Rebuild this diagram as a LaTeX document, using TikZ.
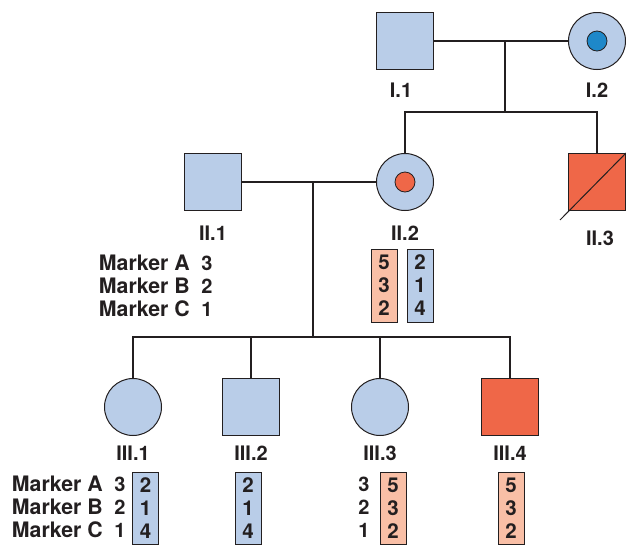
\documentclass[tikz,border=0pt]{standalone}
\usepackage{fontspec}
\setmainfont{TeX Gyre Heros}

\definecolor{ink}{HTML}{231F20}
\definecolor{paleblue}{HTML}{B9CDE8}
\definecolor{affected}{HTML}{EF6748}
\definecolor{salmon}{HTML}{F9BFA6}
\definecolor{carrierblue}{HTML}{1E88C9}

\tikzset{
  male/.style={rectangle, draw=ink, line width=1pt, fill=paleblue, minimum size=57pt, inner sep=0pt},
  female/.style={circle, draw=ink, line width=1pt, fill=paleblue, minimum size=57pt, inner sep=0pt},
  spot/.style={circle, draw=ink, line width=0.8pt, minimum size=20pt, inner sep=0pt},
  tag/.style={font=\fontsize{20}{24}\selectfont\bfseries, text=ink, inner sep=0pt},
  marker/.style={tag, anchor=east, font=\fontsize{21.3}{24}\selectfont\bfseries},
  alleles/.style={rectangle, draw=ink, line width=1pt, minimum width=26pt, minimum height=73pt,
    inner sep=0pt, align=center, text=ink, font=\fontsize{20.5}{23}\selectfont\bfseries},
  link/.style={draw=ink, line width=2.6pt},
}

\begin{document}
\begin{tikzpicture}[x=1pt, y=-1pt]

\useasboundingbox (0,0) rectangle (626,544);

% generation I
\node[male] (I1) at (405, 41) {};
\node[female] (I2) at (597, 41) {};
\node[spot, fill=carrierblue] (I2dot) at (I2) {};
\node[tag] (I1tag) at (401, 90) {I.1};
\node[tag] (I2tag) at (597, 90) {I.2};

\coordinate (m1) at (505, 41);
\coordinate (s1) at (505, 112);

% generation II
\node[male] (II1) at (213, 182) {};
\node[female] (II2) at (405, 182) {};
\node[spot, fill=affected] (II2dot) at (II2) {};
\node[male, fill=affected] (II3) at (597, 182) {};
\coordinate (II3tail) at (560, 220);
\node[tag] (II1tag) at (213, 233) {II.1};
\node[tag] (II2tag) at (405, 233) {II.2};
\node[tag] (II3tag) at (600, 238) {II.3};

\coordinate (m2) at (313, 182);
\coordinate (s2) at (313, 337);

\node[marker] (IIa) at (190, 263) {Marker A};
\node[marker] (IIb) at (190, 286) {Marker B};
\node[marker] (IIc) at (190, 309) {Marker C};
\node[tag] (IIa1) at (207, 263) {3};
\node[tag] (IIb1) at (207, 286) {2};
\node[tag] (IIc1) at (207, 309) {1};

\node[alleles, fill=salmon] (II2left) at (384, 285.5) {5\\3\\2};
\node[alleles, fill=paleblue] (II2right) at (420, 285.5) {2\\1\\4};

% generation III
\node[female] (III1) at (133, 407) {};
\node[male] (III2) at (251, 407) {};
\node[female] (III3) at (380, 407) {};
\node[male, fill=affected] (III4) at (510, 407) {};
\node[tag] (III1tag) at (133, 453) {III.1};
\node[tag] (III2tag) at (251, 453) {III.2};
\node[tag] (III3tag) at (380, 453) {III.3};
\node[tag] (III4tag) at (510, 453) {III.4};

\node[marker] (IIIa) at (103, 484) {Marker A};
\node[marker] (IIIb) at (103, 507) {Marker B};
\node[marker] (IIIc) at (103, 530) {Marker C};
\node[tag] (IIIa1) at (120, 484) {3};
\node[tag] (IIIb1) at (120, 507) {2};
\node[tag] (IIIc1) at (120, 530) {1};
\node[tag] (III3a) at (364, 484) {3};
\node[tag] (III3b) at (364, 507) {2};
\node[tag] (III3c) at (364, 530) {1};

\node[alleles, fill=paleblue, minimum height=72pt] (III1box) at (145.5, 508) {2\\1\\4};
\node[alleles, fill=paleblue, minimum height=72pt] (III2box) at (248, 508) {2\\1\\4};
\node[alleles, fill=salmon, minimum height=72pt] (III3box) at (393, 508) {5\\3\\2};
\node[alleles, fill=salmon, minimum height=72pt] (III4box) at (511, 508) {5\\3\\2};

% connectors
\draw[link] (I1) -- (I2);
\draw[link] (m1) -- (s1);
\draw[link] (II2.north) |- (s1) -| (II3.north);
\draw[ink, line width=1pt] (II3.north east) -- (II3tail);

\draw[link] (II1) -- (II2);
\draw[link] (m2) -- (s2);
\draw[link] (III1.north) |- (s2) -| (III4.north);
\draw[link] (III2.north) -- (III2.north |- s2);
\draw[link] (III3.north) -- (III3.north |- s2);

\end{tikzpicture}
\end{document}
